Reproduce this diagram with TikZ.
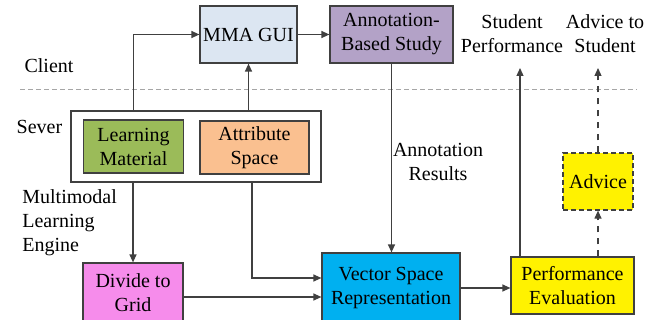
\documentclass[tikz,border=0pt]{standalone}
\usepackage{fontspec}
\setmainfont{Liberation Serif}
\usetikzlibrary{arrows.meta}
\definecolor{linegray}{HTML}{404040}
\definecolor{guiblue}{HTML}{DCE6F2}
\definecolor{studypurple}{HTML}{B3A2C7}
\definecolor{matgreen}{HTML}{9BBB59}
\definecolor{attrorange}{HTML}{FAC090}
\definecolor{gridpink}{HTML}{F68CEB}
\definecolor{vecblue}{HTML}{00B0F0}
\tikzset{
  blk/.style={draw=linegray, line width=0.6pt, align=center, inner sep=0pt},
  conn/.style={draw=linegray, line width=0.6pt, ->},
  tierline/.style={draw=black!35, line width=0.5pt, dash pattern=on 2.5pt off 1.5pt},
}
\begin{document}
\begin{tikzpicture}[x=0.5pt,y=-0.5pt,font=\fontsize{10}{12}\selectfont,
  >={Triangle[length=4pt,width=3.5pt]}]
\useasboundingbox (0,0) rectangle (657,320);
\draw [tierline] (20,90) -- (637,90);
\node (client) at (49,66) {Client};
\node (sever) at (39.5,127) {Sever};
\node [blk, fill=guiblue, minimum width=48.5pt, minimum height=28.5pt] (gui) at (248.5,34.5) {MMA GUI};
\node [blk, fill=studypurple, minimum width=61.5pt, minimum height=28.5pt] (abs) at (391.5,34.5) {Annotation-\\Based Study};
\node [align=center] (perf) at (512,34) {Student\\Performance};
\node [align=center] (advto) at (605,34) {Advice to\\Student};
\node [blk, minimum width=125pt, minimum height=35.5pt] (srv) at (196,146.5) {};
\node [blk, fill=matgreen, minimum width=50pt, minimum height=26.5pt] (lm) at (133.5,146.5) {Learning\\Material};
\node [blk, fill=attrorange, minimum width=54.5pt, minimum height=26.5pt] (as) at (254.5,147.5) {Attribute\\Space};
\node [align=left, anchor=west, inner sep=0pt] (engine) at (22,223) {Multimodal\\Learning\\Engine};
\node [align=center] (annres) at (438,162) {Annotation\\Results};
\node [blk, fill=gridpink, minimum width=50pt, minimum height=30pt] (dtg) at (133,293) {Divide to\\Grid};
\node [blk, fill=vecblue, minimum width=69pt, minimum height=35pt] (vsr) at (391,288) {Vector Space\\Representation};
\node [blk, fill=yellow, minimum width=61.5pt, minimum height=28.5pt] (pe) at (572.5,285.5) {Performance\\Evaluation};
\node [blk, fill=yellow, dash pattern=on 2.5pt off 1.5pt, minimum width=35pt, minimum height=28.5pt] (adv) at (598,181.5) {Advice};
\coordinate (perfTip) at (520,68);
\draw [conn] (lm |- srv.north) |- (gui.west);
\draw [conn] (srv.north -| gui) -- (gui.south);
\draw [conn] (gui.east) -- (abs.west);
\draw [conn] (abs.south) -- (abs.south |- vsr.north);
\draw [conn] (dtg.north |- srv.south) -- (dtg.north);
\draw [conn] (srv.south -| 252,0) |- ([yshift=5pt]vsr.west);
\draw [conn] ([yshift=-2pt]dtg.east) -- ([yshift=-2pt]dtg.east -| vsr.west);
\draw [conn] (vsr.east) -- (vsr.east -| pe.west);
\draw [conn] (perfTip |- pe.north) -- (perfTip);
\draw [conn, dashed] (pe.north -| adv) -- (adv.south);
\draw [conn, dashed] (adv.north) -- (adv.north |- perfTip);
\end{tikzpicture}
\end{document}
